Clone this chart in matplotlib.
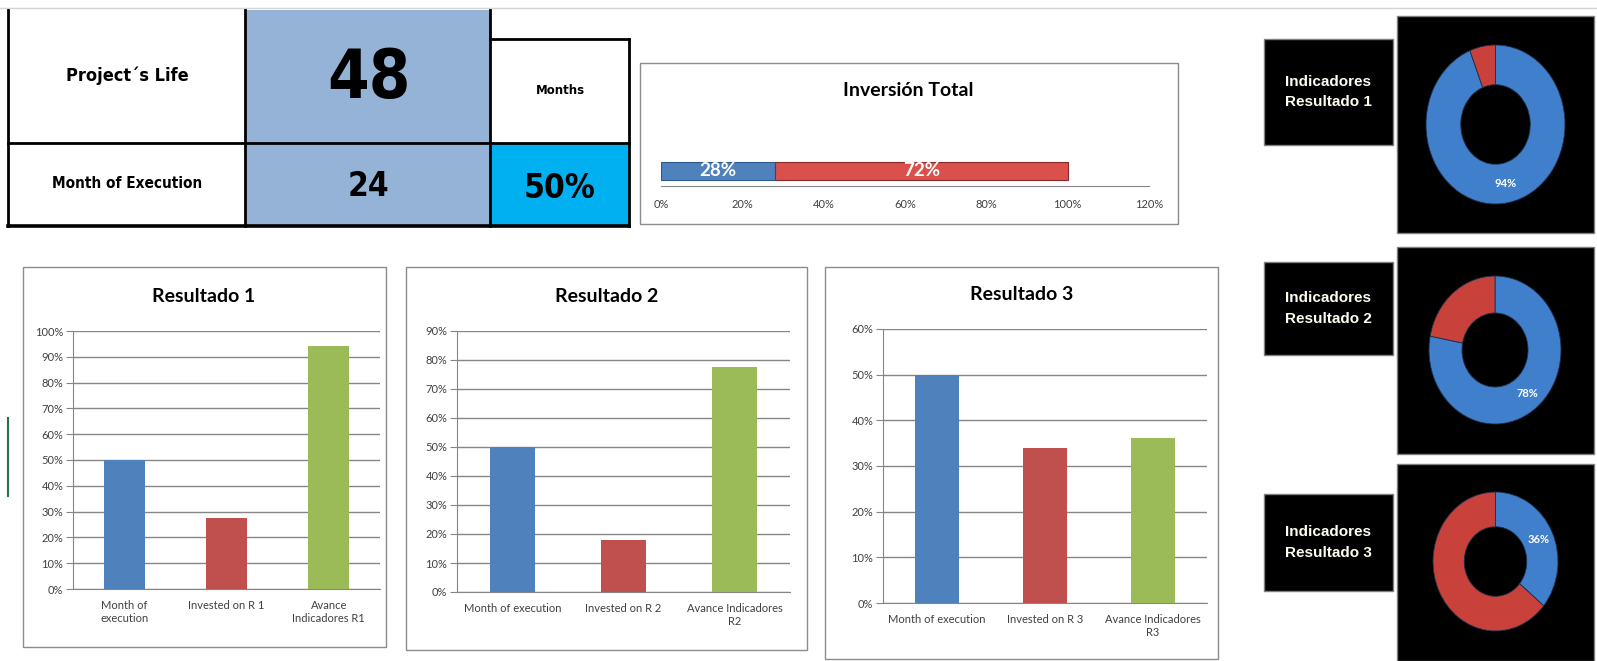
import matplotlib
matplotlib.use('Agg')
import matplotlib.pyplot as plt
from matplotlib.patches import Rectangle
from matplotlib.ticker import PercentFormatter, MultipleLocator
from matplotlib import font_manager
import numpy as np

W, H = 1597, 661

# summary table
life_label = 'Project´s Life'
life_months = '48'
months_label = 'Months'
exec_label = 'Month of Execution'
exec_months = '24'
exec_pct = '50%'

# inversion total (stacked bar)
inv_title = 'Inversión Total'
inv_values = [0.28, 0.72]
inv_labels = ['28%', '72%']

# result bar charts
bar_titles = ['Resultado 1', 'Resultado 2', 'Resultado 3']
r1_cats = ['Month of\nexecution', 'Invested on R 1', 'Avance\nIndicadores R1']
r2_cats = ['Month of execution', 'Invested on R 2', 'Avance Indicadores\nR2']
r3_cats = ['Month of execution', 'Invested on R 3', 'Avance Indicadores\nR3']
r1_values = [0.50, 0.275, 0.94]
r2_values = [0.50, 0.18, 0.775]
r3_values = [0.50, 0.34, 0.362]
bar_ymax = [1.0, 0.9, 0.6]

# indicator donuts
donut_titles = ['Indicadores\nResultado 1', 'Indicadores\nResultado 2',
                'Indicadores\nResultado 3']
donut_done = [0.94, 0.78, 0.36]
donut_rest = [0.06, 0.22, 0.64]
donut_labels = ['94%', '78%', '36%']

BLUE = '#4F81BD'
RED = '#C0504D'
GREEN = '#9BBB59'
CHART = ['Lato', 'DejaVu Sans']

# pick a narrow face for the table if one is installed
names = {f.name for f in font_manager.fontManager.ttflist}
NARROW_FAM = ['DejaVu Sans']
NARROW_STRETCH = 'condensed'
for cand in ['Liberation Sans Narrow', 'DejaVu Sans Condensed']:
    if cand in names:
        NARROW_FAM = [cand, 'DejaVu Sans']
        break


def narrow(**kw):
    return dict(family=NARROW_FAM, stretch=NARROW_STRETCH,
                fontweight='bold', ha='center', va='center', **kw)


def frac(x0, y0, x1, y1):
    '''pixel box (top-left origin) -> figure fraction rect'''
    return [x0 / W, 1 - y1 / H, (x1 - x0) / W, (y1 - y0) / H]


fig = plt.figure(figsize=(W / 100, H / 100), dpi=100)
bg = fig.add_axes([0, 0, 1, 1])
bg.set_xlim(0, W)
bg.set_ylim(H, 0)
bg.axis('off')

# faint spreadsheet gridline at the top
bg.plot([0, W], [8, 8], color='#d4d4d4', lw=1)
bg.plot([8, 8], [418, 496], color='#217346', lw=1.5)

# ---- summary table ----
bg.add_patch(Rectangle((245, 10), 245, 133, fc='#95B3D7', ec='none'))
bg.add_patch(Rectangle((245, 143), 245, 83, fc='#95B3D7', ec='none'))
bg.add_patch(Rectangle((490, 143), 139, 83, fc='#00B0F0', ec='none'))
k = dict(color='black', lw=2, solid_capstyle='projecting')
bg.plot([8, 8], [10, 226], **k)
bg.plot([245, 245], [10, 226], **k)
bg.plot([490, 490], [10, 226], **k)
bg.plot([629, 629], [39, 226], **k)
bg.plot([490, 629], [39, 39], **k)
bg.plot([8, 629], [143, 143], **k)
bg.plot([8, 629], [226, 226], color='black', lw=2.6)

bg.text(127, 76, life_label, fontsize=13, **narrow())
bg.text(369, 79, life_months, fontsize=48, **narrow())
bg.text(560, 91, months_label, ha='center', va='center', fontsize=8.5,
        fontweight='bold', family=['DejaVu Sans'])
bg.text(127, 184, exec_label, fontsize=11, **narrow())
bg.text(368, 187, exec_months, fontsize=24, **narrow())
bg.text(560, 189, exec_pct, fontsize=24, **narrow())

# ---- inversion total ----
bg.add_patch(Rectangle((640, 63), 538, 161, fc='white', ec='#8c8c8c', lw=1))
bg.text(908, 91, inv_title, ha='center', va='center', fontsize=14,
        fontweight='bold', family=CHART)
ax = fig.add_axes(frac(661, 132, 1149, 186))
left = 0
for v, lab, c, e in zip(inv_values, inv_labels, [BLUE, '#DA504C'],
                        ['#2f5a8f', '#8a2a28']):
    ax.barh(0, v, left=left, height=0.6, color=c, edgecolor=e, lw=0.8)
    ax.text(left + v / 2, 0, lab, ha='center', va='center', color='white',
            fontsize=13.5, fontweight='bold', family=CHART)
    left += v
ax.set_xlim(0, 1.2)
ax.set_ylim(-0.5, 1.265)
ax.xaxis.set_major_locator(MultipleLocator(0.2))
ax.xaxis.set_major_formatter(PercentFormatter(1.0, decimals=0))
ax.set_yticks([])
for s in ['top', 'right', 'left']:
    ax.spines[s].set_visible(False)
ax.spines['bottom'].set_color('#868686')
ax.tick_params(axis='x', length=0, labelsize=8, labelcolor='#404040', pad=9)
for t in ax.get_xticklabels():
    t.set_family(CHART)
ax.patch.set_alpha(0)

# ---- result bar charts ----
boxes = [(23, 267, 386, 647), (406, 267, 807, 650), (825, 267, 1218, 659)]
plots = [(73, 331, 380, 589), (457, 331, 790, 592), (883, 329, 1207, 603)]
title_xy = [(204, 297), (607, 297), (1022, 295)]
all_cats = [r1_cats, r2_cats, r3_cats]
all_vals = [r1_values, r2_values, r3_values]
for i in range(3):
    x0, y0, x1, y1 = boxes[i]
    bg.add_patch(Rectangle((x0, y0), x1 - x0, y1 - y0, fc='white',
                           ec='#8c8c8c', lw=1))
    bg.text(title_xy[i][0], title_xy[i][1], bar_titles[i], ha='center',
            va='center', fontsize=14, fontweight='bold', family=CHART)
    ax = fig.add_axes(frac(*plots[i]))
    xs = np.arange(len(all_cats[i]))
    ax.bar(xs, all_vals[i], width=0.4, color=[BLUE, RED, GREEN], zorder=3)
    ax.set_xlim(-0.5, 2.5)
    ax.set_ylim(0, bar_ymax[i])
    ax.yaxis.set_major_locator(MultipleLocator(0.1))
    ax.yaxis.set_major_formatter(PercentFormatter(1.0, decimals=0))
    ax.set_xticks(xs)
    ax.set_xticklabels(all_cats[i])
    ax.grid(axis='y', color='#868686', lw=1)
    ax.set_axisbelow(True)
    for s in ['top', 'right']:
        ax.spines[s].set_visible(False)
    for s in ['left', 'bottom']:
        ax.spines[s].set_color('#868686')
    ax.tick_params(axis='y', length=5, color='#868686', labelsize=8,
                   labelcolor='#404040', pad=2)
    ax.tick_params(axis='x', length=0, labelsize=8, labelcolor='#404040',
                   pad=8)
    for t in ax.get_xticklabels() + ax.get_yticklabels():
        t.set_family(CHART)
    ax.patch.set_alpha(0)

# ---- indicator donuts ----
label_boxes = [(1264, 39, 1393, 145), (1264, 262, 1393, 355),
               (1264, 494, 1393, 591)]
black_boxes = [(1397, 16, 1594, 233), (1397, 247, 1594, 454),
               (1397, 464, 1594, 661)]
rings = [(1426, 45, 1565, 204), (1429, 276, 1561, 424),
         (1433, 492, 1558, 631)]
for i in range(3):
    x0, y0, x1, y1 = label_boxes[i]
    bg.add_patch(Rectangle((x0, y0), x1 - x0, y1 - y0, fc='black',
                           ec='#7f7f7f', lw=1))
    bg.text((x0 + x1) / 2, (y0 + y1) / 2, donut_titles[i], ha='center',
            va='center', fontsize=11, fontweight='bold', color='#FFFDF0',
            linespacing=1.6, family=['Liberation Sans', 'DejaVu Sans'])
    x0, y0, x1, y1 = black_boxes[i]
    bg.add_patch(Rectangle((x0, y0), x1 - x0, y1 - y0, fc='black',
                           ec='#7f7f7f', lw=1))
    ax = fig.add_axes(frac(*rings[i]))
    wedges, _ = ax.pie([donut_done[i], donut_rest[i]],
                       colors=['#3F7FCC', '#C9413B'], startangle=90,
                       counterclock=False, radius=1,
                       wedgeprops=dict(width=0.5, edgecolor='#1b2f4a',
                                       lw=0.6))
    ax.set_aspect('auto')
    ax.set_xlim(-1, 1)
    ax.set_ylim(-1, 1)
    w = wedges[0]
    ang = np.deg2rad((w.theta1 + w.theta2) / 2)
    ax.text(0.76 * np.cos(ang), 0.76 * np.sin(ang), donut_labels[i],
            ha='center', va='center', color='white', fontsize=8,
            fontweight='bold', family=CHART)

fig.savefig('out.png', dpi=100)
